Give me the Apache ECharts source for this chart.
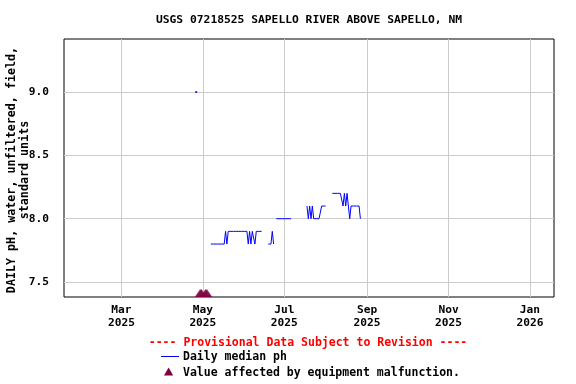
<!DOCTYPE html>
<html><head><meta charset="utf-8">
<script src="https://cdn.jsdelivr.net/npm/echarts@6/dist/echarts.min.js"></script>
<style>html,body{margin:0;padding:0;background:#fff}#c{width:576px;height:384px}</style>
</head><body><div id="c"></div>
<script>
const FONT = '"DejaVu Sans Mono", "Liberation Mono", monospace';
const titleText = 'USGS 07218525 SAPELLO RIVER ABOVE SAPELLO, NM';
const yAxisTitle = ['DAILY pH, water, unfiltered, field,', 'standard units'];
const yTicks = [7.5, 8.0, 8.5, 9.0];
const yRange = [7.382, 9.418];
const xTickDates = ['2025-03-01','2025-05-01','2025-07-01','2025-09-01','2025-11-01','2026-01-01'];
const xTickLabels = ['Mar\n2025','May\n2025','Jul\n2025','Sep\n2025','Nov\n2025','Jan\n2026'];
const xRange = ['2025-01-17','2026-01-19'];

// Daily median pH: runs of consecutive days (start date + values)
const runStartDates = ['2025-04-26','2025-05-07','2025-06-19','2025-06-25','2025-07-18','2025-08-06'];
const run1 = [9.0];
const run2 = [7.8,7.8,7.8,7.8,7.8,7.8,7.8,7.8,7.8,7.8,7.8,
              7.9,7.8,7.9,
              7.9,7.9,7.9,7.9,7.9,7.9,7.9,7.9,7.9,7.9,7.9,7.9,7.9,7.9,
              7.8,7.9,7.8,7.9,7.9,7.8,7.9,
              7.9,7.9,7.9,7.9];
const run3 = [7.8,7.8,7.8,7.9,7.8];
const run4 = [8.0,8.0,8.0,8.0,8.0,8.0,8.0,8.0,8.0,8.0,8.0,8.0];
const run5 = [8.1,8.0,8.1,8.0,8.1,8.0,8.0,8.0,8.0,8.0,8.0,8.1,8.1,8.1,8.1];
const run6 = [8.2,8.2,8.2,8.2,8.2,8.2,8.2,8.2,8.1,8.2,8.1,8.2,8.1,8.0,8.1,8.1,8.1,8.1,8.1,8.1,8.1,8.0];
const runs = [run1, run2, run3, run4, run5, run6];

// Days flagged: value affected by equipment malfunction
const malfunctionDates = ['2025-04-29','2025-04-30','2025-05-03','2025-05-04'];

const DAY = 86400000;
const ts = s => Date.parse(s + 'T00:00:00Z');
const lineData = [], singlePoints = [];
runStartDates.forEach((s, i) => {
  const vals = runs[i], t0 = ts(s);
  if (vals.length === 1) { singlePoints.push([t0, vals[0]]); return; }
  vals.forEach((v, k) => lineData.push([t0 + k * DAY, v]));
  lineData.push([t0 + vals.length * DAY, null]);
});
const xTickTs = xTickDates.map(ts);

const chart = echarts.init(document.getElementById('c'), null, {renderer: 'canvas'});
const txt = {fontFamily: FONT, fontWeight: 'bold', color: '#000'};
chart.setOption({
  animation: false,
  backgroundColor: '#fff',
  grid: {left: 64, top: 39, right: 22, bottom: 87, show: true, borderColor: '#000', borderWidth: 1, backgroundColor: 'transparent'},
  xAxis: {
    type: 'value', min: ts(xRange[0]), max: ts(xRange[1]),
    axisLine: {show: false}, axisTick: {show: false, customValues: xTickTs},
    axisLabel: Object.assign({customValues: xTickTs, fontSize: 11.2, lineHeight: 13, margin: 7,
      formatter: v => { let b = 0; xTickTs.forEach((t, i) => { if (Math.abs(t - v) < Math.abs(xTickTs[b] - v)) b = i; }); return xTickLabels[b]; }}, txt),
    splitLine: {show: true, lineStyle: {color: '#cccccc', width: 1}}
  },
  yAxis: {
    type: 'value', min: yRange[0], max: yRange[1],
    axisLine: {show: false}, axisTick: {show: false, customValues: yTicks},
    axisLabel: Object.assign({customValues: yTicks, fontSize: 11.2, margin: 15, formatter: v => v.toFixed(1)}, txt),
    splitLine: {show: true, lineStyle: {color: '#cccccc', width: 1}}
  },
  series: [
    {type: 'line', data: lineData, showSymbol: false, connectNulls: false, z: 3,
     lineStyle: {color: '#0000ff', width: 1}, itemStyle: {color: '#0000ff'}},
    {type: 'scatter', data: singlePoints, symbol: 'rect', symbolSize: 2, z: 3, itemStyle: {color: '#0000ff'}},
    {type: 'scatter', data: malfunctionDates.map(d => [ts(d), yRange[0]]), symbol: 'triangle',
     symbolSize: [11, 8], symbolOffset: [0, -4], clip: false, z: 4, itemStyle: {color: '#800040'}}
  ],
  graphic: [
    {type: 'text', x: 309, y: 20, style: {text: titleText, textAlign: 'center', textVerticalAlign: 'middle',
      font: 'bold 11.3px ' + FONT, fill: '#000'}},
    {type: 'text', x: 18, y: 170, rotation: Math.PI / 2, style: {text: yAxisTitle.join('\n'), textAlign: 'center',
      textVerticalAlign: 'middle', font: 'bold 11.7px ' + FONT, lineHeight: 13, fill: '#000'}},
    {type: 'text', x: 308, y: 343, style: {text: '---- Provisional Data Subject to Revision ----', textAlign: 'center',
      textVerticalAlign: 'middle', font: 'bold 11.5px ' + FONT, fill: '#ff0000'}},
    {type: 'line', shape: {x1: 161, y1: 356.5, x2: 179, y2: 356.5}, style: {stroke: '#0000ff', lineWidth: 1}},
    {type: 'text', x: 183, y: 357, style: {text: 'Daily median ph', textAlign: 'left', textVerticalAlign: 'middle',
      font: 'bold 11.5px ' + FONT, fill: '#000'}},
    {type: 'polygon', shape: {points: [[164, 375.5], [168.6, 367.5], [173.2, 375.5]]}, style: {fill: '#800040'}},
    {type: 'text', x: 183, y: 373, style: {text: 'Value affected by equipment malfunction.', textAlign: 'left',
      textVerticalAlign: 'middle', font: 'bold 11.5px ' + FONT, fill: '#000'}}
  ]
});
</script></body></html>
